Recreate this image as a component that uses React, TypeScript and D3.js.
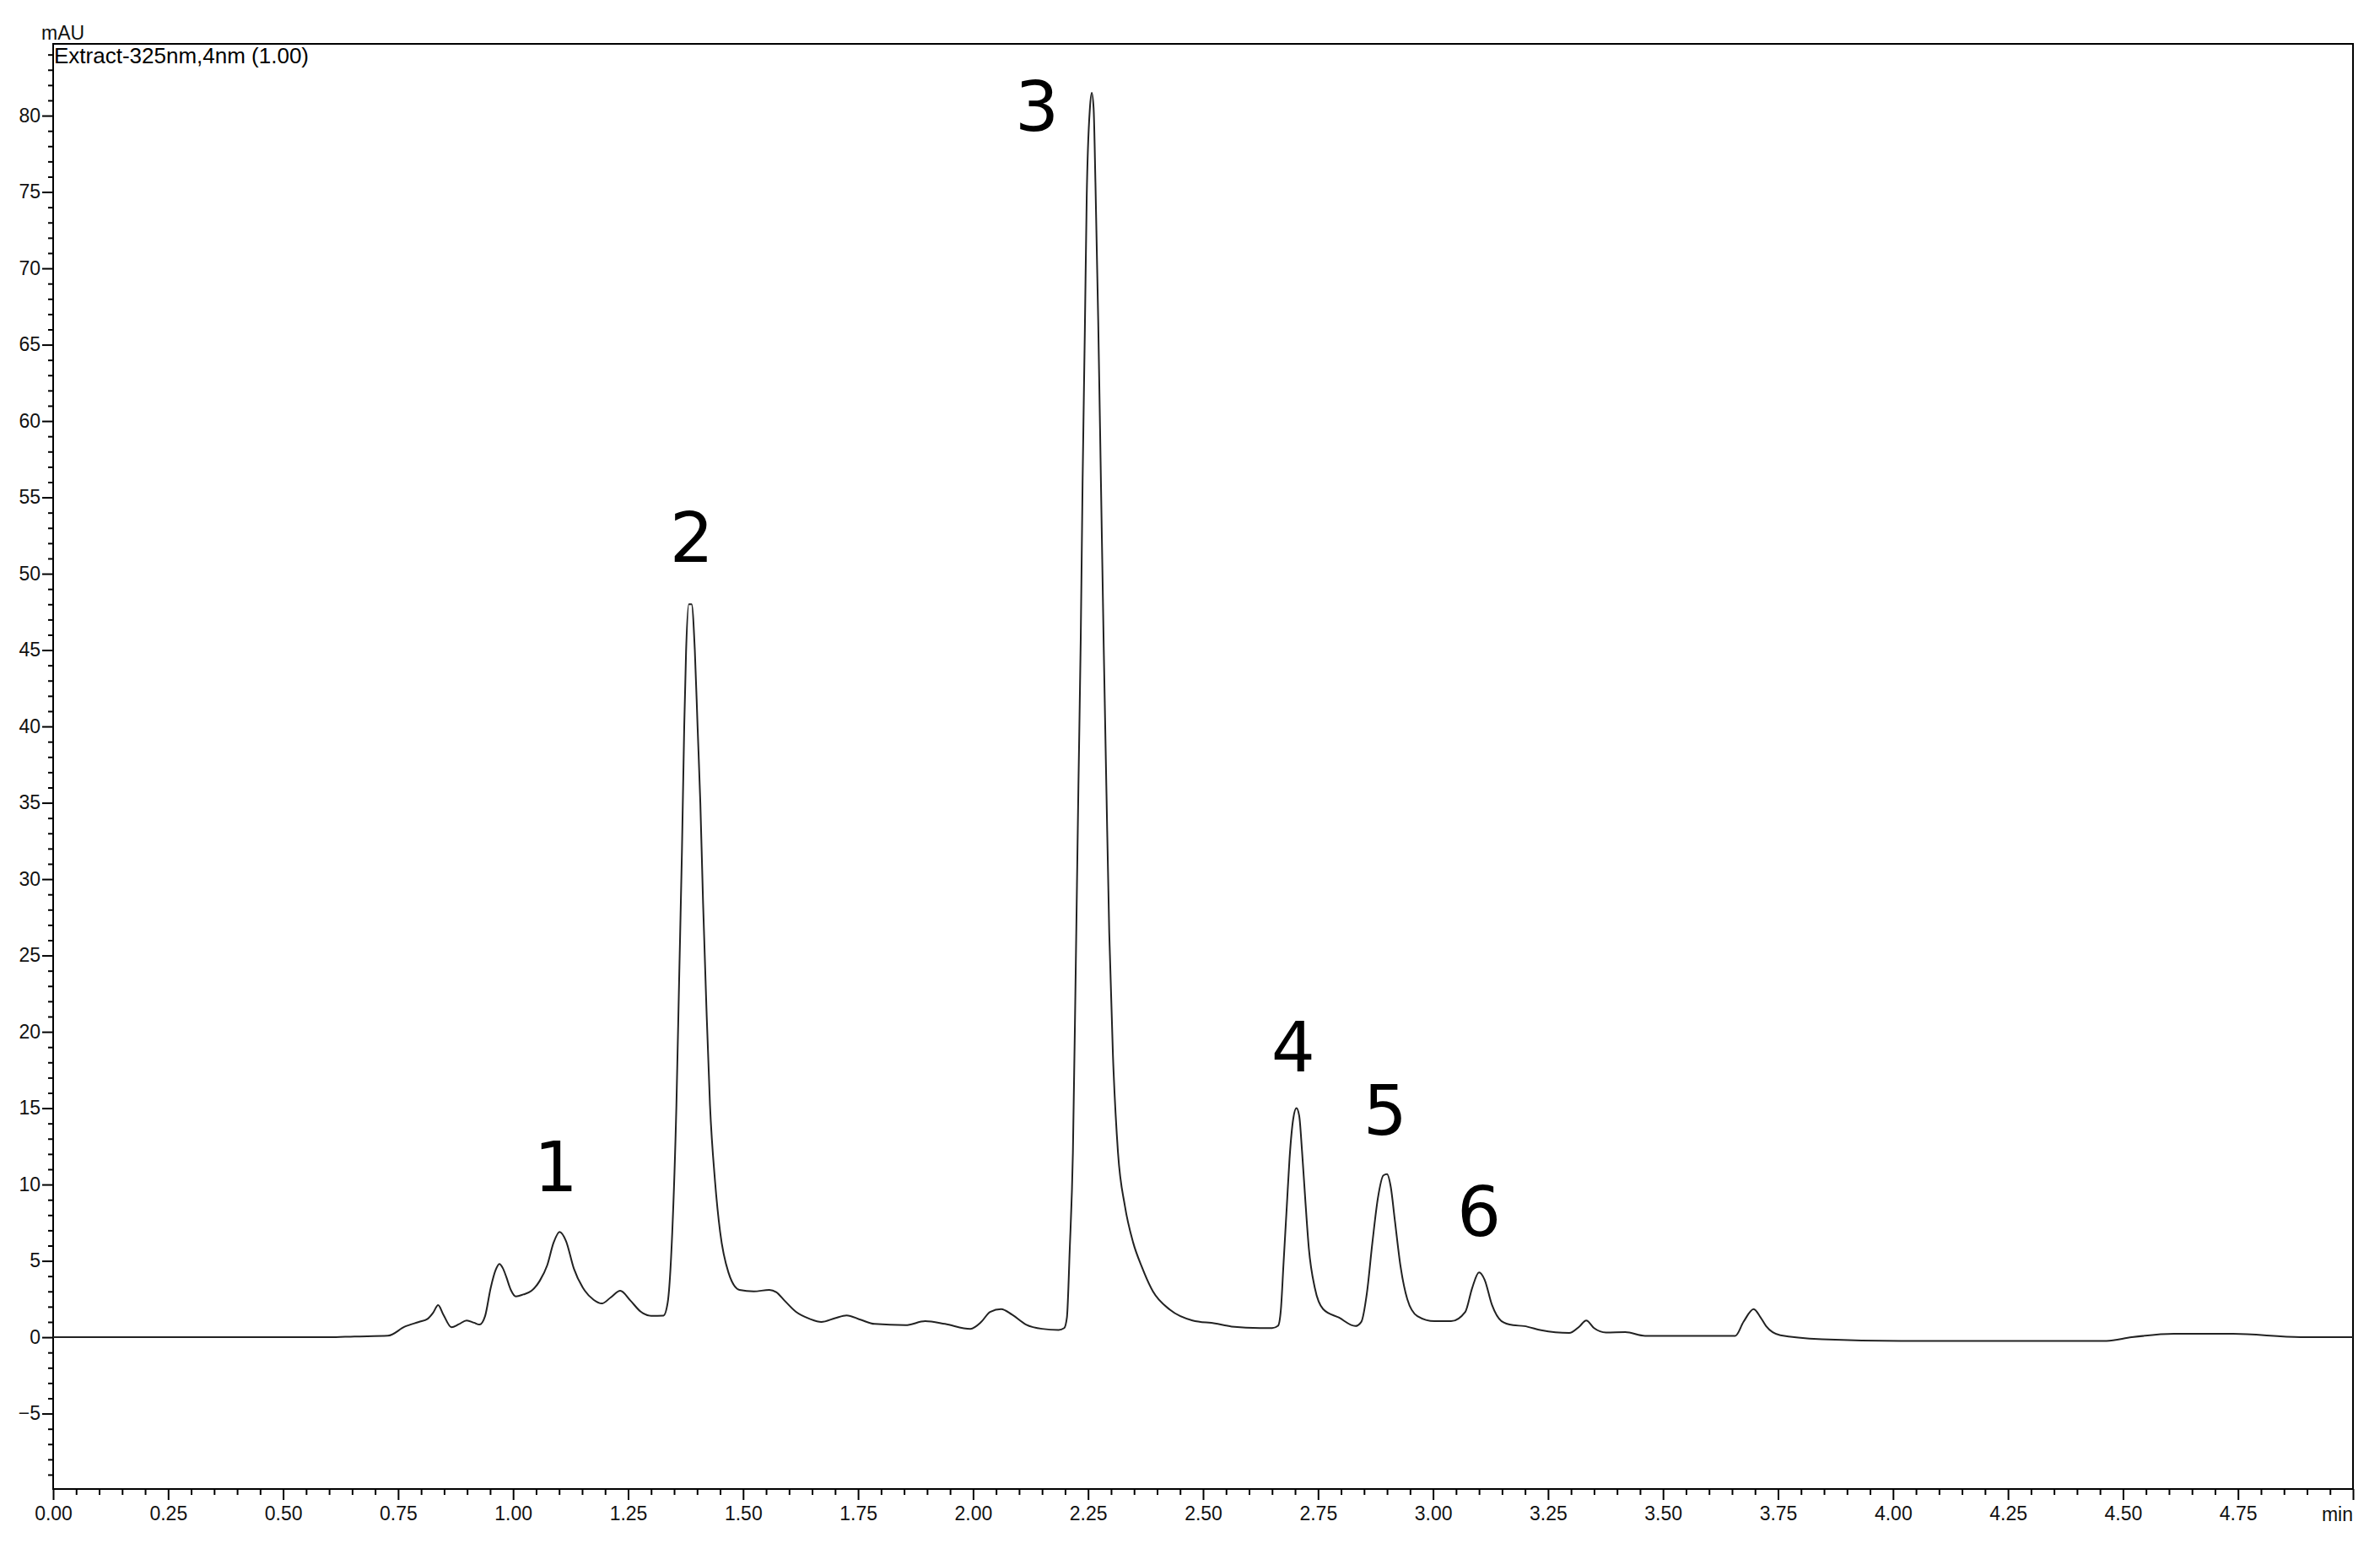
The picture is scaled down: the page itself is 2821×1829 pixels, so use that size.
import React, { useRef, useEffect } from "react";
import * as d3 from "d3";

// retention time (min) and detector response (mAU)
const times = [
  0.0, 0.3, 0.6, 0.655, 0.728, 0.765, 0.795, 0.814, 0.826, 0.837, 0.848, 0.866,
  0.882, 0.899, 0.915, 0.927, 0.939, 0.951, 0.962, 0.97, 0.978, 0.985, 0.995,
  1.006, 1.022, 1.04, 1.058, 1.074, 1.088, 1.101, 1.115, 1.132, 1.156, 1.175,
  1.193, 1.212, 1.233, 1.255, 1.278, 1.3, 1.327, 1.336, 1.346, 1.355, 1.361,
  1.367, 1.372, 1.376, 1.382, 1.388, 1.395, 1.401, 1.407, 1.413, 1.42, 1.428,
  1.439, 1.45, 1.468, 1.492, 1.523, 1.557, 1.572, 1.59, 1.615, 1.645, 1.67,
  1.7, 1.725, 1.755, 1.786, 1.853, 1.896, 1.939, 1.994, 2.018, 2.037, 2.061,
  2.085, 2.115, 2.15, 2.186, 2.198, 2.204, 2.21, 2.217, 2.223, 2.229, 2.234,
  2.238, 2.243, 2.247, 2.254, 2.258, 2.262, 2.266, 2.272, 2.278, 2.284, 2.29,
  2.296, 2.304, 2.315, 2.33, 2.348, 2.367, 2.391, 2.428, 2.477, 2.526, 2.562,
  2.624, 2.65, 2.663, 2.669, 2.675, 2.682, 2.688, 2.696, 2.703, 2.709, 2.715,
  2.722, 2.73, 2.743, 2.761, 2.795, 2.831, 2.844, 2.856, 2.868, 2.88, 2.892,
  2.9, 2.908, 2.917, 2.929, 2.944, 2.966, 3.003, 3.039, 3.07, 3.085, 3.1,
  3.112, 3.128, 3.149, 3.174, 3.198, 3.235, 3.296, 3.318, 3.333, 3.35, 3.376,
  3.418, 3.461, 3.657, 3.675, 3.697, 3.712, 3.724, 3.755, 3.846, 4.017, 4.464,
  4.519, 4.611, 4.739, 4.886, 5.0,
];
const mau = [
  0, 0, 0, 0.05, 0.1, 0.7, 1.0, 1.2, 1.6, 2.1, 1.5, 0.65,
  0.85, 1.1, 0.95, 0.83, 1.38, 3.2, 4.4, 4.8, 4.5, 3.96, 3.1,
  2.67, 2.8, 3.04, 3.7, 4.7, 6.2, 6.9, 6.3, 4.5, 3.04, 2.45,
  2.21, 2.6, 3.04, 2.4, 1.66, 1.4, 1.42, 2.26, 6.9, 15.2, 23.5,
  31.8, 40, 44.9, 48.0, 48.0, 45, 40, 35, 28.4, 21.8, 15.2,
  10.2, 6.9, 4.25, 3.1, 3.0, 3.1, 2.95, 2.4, 1.66, 1.2, 1.0,
  1.25, 1.43, 1.15, 0.87, 0.79, 1.05, 0.87, 0.55, 1.01, 1.66, 1.84,
  1.47, 0.83, 0.55, 0.48, 0.6, 1.3, 5.66, 12.1, 23.8, 36.1, 45.7,
  55.9, 66, 74.6, 80.5, 81.5, 80.5, 75.6, 66.6, 55.9, 45.2, 35.6,
  26.5, 18.5, 12.1, 8.6, 6.2, 4.6, 3.0, 1.8, 1.1, 0.9, 0.7,
  0.6, 0.6, 0.75, 1.75, 4.88, 8.56, 11.7, 14.3, 15.0, 14.5, 12.25,
  9.1, 5.8, 3.22, 1.84, 1.29, 0.73, 1.01, 2.86, 6.17, 9.1, 10.6,
  10.68, 9.85, 7.64, 4.7, 2.49, 1.38, 1.05, 1.05, 1.66, 3.22, 4.24,
  3.77, 2.12, 1.05, 0.79, 0.73, 0.46, 0.28, 0.7, 1.1, 0.6, 0.31,
  0.33, 0.09, 0.09, 1.01, 1.84, 1.3, 0.73, 0.13, -0.13, -0.24, -0.24,
  0, 0.22, 0.22, 0, 0,
];

// axis ticks
const xTickValues = [0, 0.25, 0.5, 0.75, 1, 1.25, 1.5, 1.75, 2, 2.25, 2.5, 2.75, 3, 3.25, 3.5, 3.75, 4, 4.25, 4.5, 4.75, 5];
const xTickLabels = ["0.00", "0.25", "0.50", "0.75", "1.00", "1.25", "1.50", "1.75", "2.00", "2.25", "2.50", "2.75", "3.00", "3.25", "3.50", "3.75", "4.00", "4.25", "4.50", "4.75", ""];
const yTickValues = [-5, 0, 5, 10, 15, 20, 25, 30, 35, 40, 45, 50, 55, 60, 65, 70, 75, 80];

// peak numbers and where they sit (time, mAU of the label baseline)
const peakLabels = ["1", "2", "3", "4", "5", "6"];
const peakLabelTimes = [1.093, 1.388, 2.139, 2.696, 2.896, 3.1];
const peakLabelLevels = [9.56, 50.8, 79.0, 17.4, 13.26, 6.63];

const W = 2821;
const H = 1829;
const left = 63;
const right = 2789;
const top = 52;
const bottom = 1765;
const labelFont = "'Liberation Sans', Arial, sans-serif";

const App = () => {
  const svgRef = useRef<SVGSVGElement>(null);

  const x = d3.scaleLinear().domain([0, 5]).range([left, right]);
  const y = d3.scaleLinear().domain([-9.94, 84.7]).range([bottom, top]);

  useEffect(() => {
    const svg = d3.select(svgRef.current);

    // minor ticks first, then the labelled ones
    const xMinor = d3.range(0, 100).map((i) => i * 0.05).filter((_, i) => i % 5 !== 0);
    const yMinor = d3.range(-9, 85).filter((v) => v % 5 !== 0);

    const xMinorAxis = d3.axisBottom(x).tickValues(xMinor).tickSize(7).tickFormat(() => "");
    const xAxis = d3
      .axisBottom(x)
      .tickValues(xTickValues)
      .tickSize(13)
      .tickPadding(8)
      .tickFormat((d, i) => xTickLabels[i]);
    const yMinorAxis = d3.axisLeft(y).tickValues(yMinor).tickSize(6).tickFormat(() => "");
    const yAxis = d3.axisLeft(y).tickValues(yTickValues).tickSize(13).tickPadding(2);

    svg.select(".x-minor").attr("transform", `translate(0, ${bottom})`).call(xMinorAxis);
    svg.select(".x-axis").attr("transform", `translate(0, ${bottom})`).call(xAxis);
    svg.select(".y-minor").attr("transform", `translate(${left}, 0)`).call(yMinorAxis);
    svg.select(".y-axis").attr("transform", `translate(${left}, 0)`).call(yAxis);

    svg.selectAll(".domain").remove();
    svg.selectAll(".tick line").attr("stroke", "#000").attr("stroke-width", 2);
    svg
      .selectAll(".tick text")
      .attr("font-family", labelFont)
      .attr("font-size", 23)
      .attr("fill", "#111");

    const line = d3
      .line<number>()
      .x((d, i) => x(times[i]))
      .y((d) => y(d))
      .curve(d3.curveMonotoneX);

    svg
      .select(".trace")
      .datum(mau)
      .attr("d", line)
      .attr("fill", "none")
      .attr("stroke", "#222")
      .attr("stroke-width", 2);
  }, []);

  return (
    <svg
      ref={svgRef}
      width={W}
      height={H}
      style={{ position: "absolute", left: 0, top: 0, background: "#fff" }}
    >
      <rect x={0} y={0} width={W} height={H} fill="#fff" />
      <g className="x-minor" />
      <g className="x-axis" />
      <g className="y-minor" />
      <g className="y-axis" />
      <rect
        x={left}
        y={top}
        width={right - left}
        height={bottom - top}
        fill="none"
        stroke="#000"
        strokeWidth={2}
      />
      <path className="trace" />
      <text x={49} y={47} fontFamily={labelFont} fontSize={23} fill="#111">
        mAU
      </text>
      <text x={64} y={75} fontFamily={labelFont} fontSize={26} fill="#000">
        Extract-325nm,4nm (1.00)
      </text>
      <text
        x={right}
        y={1803}
        textAnchor="end"
        fontFamily={labelFont}
        fontSize={23}
        fill="#111"
      >
        min
      </text>
      {peakLabels.map((p, i) => (
        <text
          key={p}
          x={x(peakLabelTimes[i])}
          y={y(peakLabelLevels[i])}
          textAnchor="middle"
          fontFamily="'DejaVu Sans', Verdana, sans-serif"
          fontSize={82}
          fill="#000"
        >
          {p}
        </text>
      ))}
    </svg>
  );
};

export default App;
